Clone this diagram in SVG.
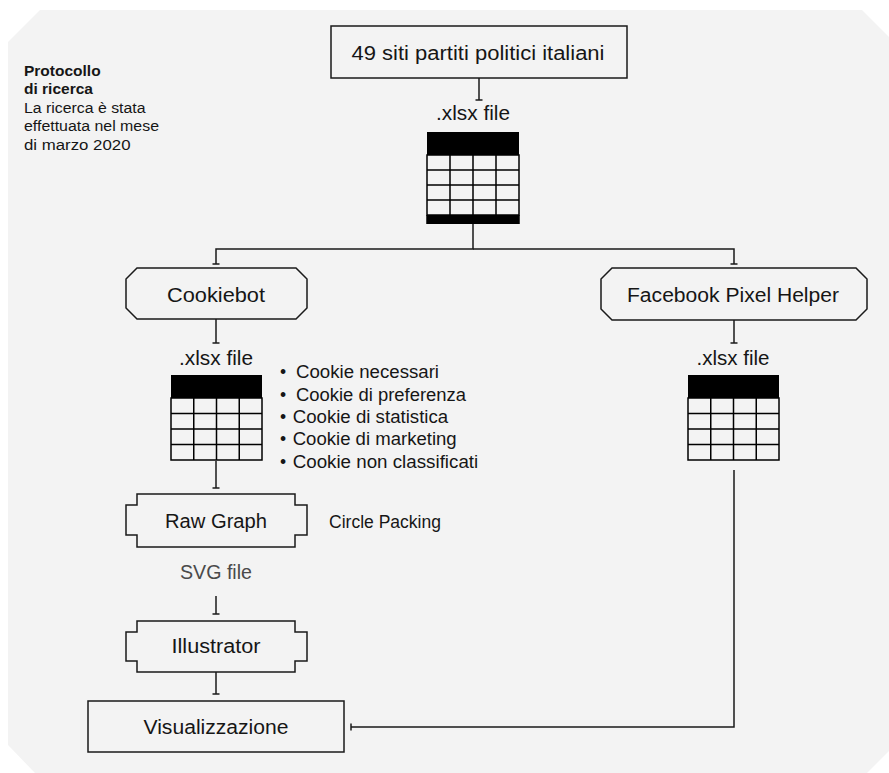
<svg xmlns="http://www.w3.org/2000/svg" width="889" height="773" viewBox="0 0 889 773">
<style>
text{font-family:"Liberation Sans",Arial,sans-serif;fill:#161616}
.lbl{font-size:20px;text-anchor:middle}
.sm{font-size:17.5px}
.leg{font-size:15.5px}
.b{font-weight:bold}
.grey{fill:#4a4a4a}
.node{fill:none;stroke:#1a1a1a;stroke-width:1.5}
.conn path{fill:none;stroke:#1a1a1a;stroke-width:1.5;marker-end:url(#tick)}
.tbl .body{fill:none;stroke:#000;stroke-width:1.5}
.tbl .grid{stroke:#000;stroke-width:1.5;fill:none}
.tbl .band{fill:#000}
</style>
<defs>
<marker id="tick" viewBox="0 -5 2 10" refX="1" refY="0" markerWidth="2" markerHeight="10" markerUnits="userSpaceOnUse" orient="auto">
<path d="M1,-3.5V3.5" stroke="#1a1a1a" stroke-width="1.5" fill="none"/>
</marker>
</defs>
<polygon points="40,10 862,10 889,37 889,751 867,773 35,773 8,745 8,42" fill="#f3f3f3"/>

<g id="legend">
<text class="leg b" x="24" y="76">Protocollo</text>
<text class="leg b" x="24" y="94">di ricerca</text>
<text class="leg" x="24" y="112.5" textLength="121.5" lengthAdjust="spacingAndGlyphs">La ricerca è stata</text>
<text class="leg" x="24" y="131" textLength="135" lengthAdjust="spacingAndGlyphs">effettuata nel mese</text>
<text class="leg" x="24" y="149.5" textLength="106.5" lengthAdjust="spacingAndGlyphs">di marzo 2020</text>
</g>

<g class="conn" id="connectors">
<path d="M479,78V100"/>
<path d="M473,224V249H216V264"/>
<path d="M473,249H734V264"/>
<path d="M216,319V343"/>
<path d="M734,320V343"/>
<path d="M216,461V488"/>
<path d="M216,596V614"/>
<path d="M216,672V694"/>
<path d="M734,470V727H351"/>
</g>

<g id="n-source">
<rect class="node" x="331" y="26" width="296" height="52"/>
<text class="lbl" x="478" y="60" textLength="253" lengthAdjust="spacingAndGlyphs">49 siti partiti politici italiani</text>
</g>

<g id="n-xlsx-main" class="tbl">
<text class="lbl" x="473" y="120" textLength="74" lengthAdjust="spacingAndGlyphs">.xlsx file</text>
<rect class="band" x="427" y="132" width="92" height="23"/>
<rect class="body" x="427" y="155" width="92" height="60"/>
<path class="grid" d="M427,170H519M427,185H519M427,200H519M450,155V215M473,155V215M496,155V215"/>
<rect class="band" x="426.25" y="215" width="93.5" height="9"/>
</g>

<g id="n-cookiebot">
<polygon class="node" points="137,268 296,268 307,279 307,308 296,319 137,319 126,308 126,279"/>
<text class="lbl" x="216" y="302" textLength="98" lengthAdjust="spacingAndGlyphs">Cookiebot</text>
</g>

<g id="n-facebook">
<polygon class="node" points="612,268 856,268 867,279 867,309 856,320 612,320 601,309 601,279"/>
<text class="lbl" x="733" y="302" textLength="212" lengthAdjust="spacingAndGlyphs">Facebook Pixel Helper</text>
</g>

<g id="n-xlsx-cookie" class="tbl">
<text class="lbl" x="216" y="365" textLength="74" lengthAdjust="spacingAndGlyphs">.xlsx file</text>
<rect class="band" x="171" y="375" width="91" height="23"/>
<rect class="body" x="171" y="398" width="91" height="62"/>
<path class="grid" d="M171,413.5H262M171,429H262M171,444.5H262M193.75,398V460M216.5,398V460M239.25,398V460"/>
</g>

<g id="n-cookie-types">
<text class="sm" y="378"><tspan x="280">•</tspan><tspan x="296" textLength="143" lengthAdjust="spacingAndGlyphs">Cookie necessari</tspan></text>
<text class="sm" y="400.5"><tspan x="280">•</tspan><tspan x="296" textLength="170" lengthAdjust="spacingAndGlyphs">Cookie di preferenza</tspan></text>
<text class="sm" y="423"><tspan x="280">•</tspan><tspan x="292.7" textLength="155.5" lengthAdjust="spacingAndGlyphs">Cookie di statistica</tspan></text>
<text class="sm" y="445"><tspan x="280">•</tspan><tspan x="292.7" textLength="164" lengthAdjust="spacingAndGlyphs">Cookie di marketing</tspan></text>
<text class="sm" y="467.5"><tspan x="280">•</tspan><tspan x="292.7" textLength="185.5" lengthAdjust="spacingAndGlyphs">Cookie non classificati</tspan></text>
</g>

<g id="n-xlsx-fb" class="tbl">
<text class="lbl" x="733" y="365" textLength="73" lengthAdjust="spacingAndGlyphs">.xlsx file</text>
<rect class="band" x="688" y="375" width="91" height="23"/>
<rect class="body" x="688" y="398" width="91" height="62"/>
<path class="grid" d="M688,413.5H779M688,429H779M688,444.5H779M710.75,398V460M733.5,398V460M756.25,398V460"/>
</g>

<g id="n-rawgraph">
<path class="node" d="M137,494H295V505H307V535H295V547H137V535H126V505H137Z"/>
<text class="lbl" x="216" y="528" textLength="102" lengthAdjust="spacingAndGlyphs">Raw Graph</text>
<text class="sm" x="329" y="528" textLength="112" lengthAdjust="spacingAndGlyphs">Circle Packing</text>
</g>

<g id="n-svgfile">
<text class="lbl grey" x="216" y="579" textLength="72" lengthAdjust="spacingAndGlyphs">SVG file</text>
</g>

<g id="n-illustrator">
<path class="node" d="M137,621H295V632H307V661H295V672H137V661H126V632H137Z"/>
<text class="lbl" x="216" y="653" textLength="89" lengthAdjust="spacingAndGlyphs">Illustrator</text>
</g>

<g id="n-visualizzazione">
<rect class="node" x="88" y="701" width="256" height="51"/>
<text class="lbl" x="216" y="734" textLength="145" lengthAdjust="spacingAndGlyphs">Visualizzazione</text>
</g>
</svg>
